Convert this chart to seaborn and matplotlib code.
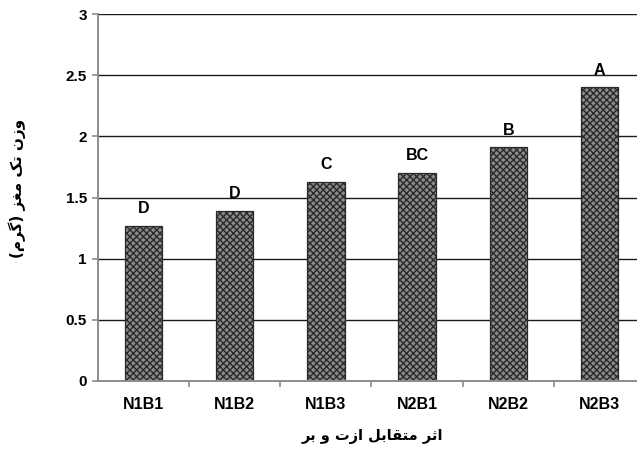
import matplotlib
matplotlib.use("Agg")
import matplotlib.pyplot as plt
import seaborn as sns
import pandas as pd

# Kernel weight per nitrogen x boron treatment
groups = ["N1B1", "N1B2", "N1B3", "N2B1", "N2B2", "N2B3"]
weights = [1.27, 1.39, 1.63, 1.70, 1.91, 2.40]
letters = ["D", "D", "C", "BC", "B", "A"]
y_ticks = [0, 0.5, 1, 1.5, 2, 2.5, 3]
y_tick_labels = ["0", "0.5", "1", "1.5", "2", "2.5", "3"]

x_title = "اثر متقابل ازت و بر"
y_title = "وزن تک مغز (گرم)"

# Contextual forms (isolated, final, initial, medial) for the letters used
FORMS = {
    "ا": (0xFE8D, 0xFE8E, None, None),
    "ب": (0xFE8F, 0xFE90, 0xFE91, 0xFE92),
    "ت": (0xFE95, 0xFE96, 0xFE97, 0xFE98),
    "ث": (0xFE99, 0xFE9A, 0xFE9B, 0xFE9C),
    "ر": (0xFEAD, 0xFEAE, None, None),
    "ز": (0xFEAF, 0xFEB0, None, None),
    "غ": (0xFECD, 0xFECE, 0xFECF, 0xFED0),
    "ق": (0xFED5, 0xFED6, 0xFED7, 0xFED8),
    "ل": (0xFEDD, 0xFEDE, 0xFEDF, 0xFEE0),
    "م": (0xFEE1, 0xFEE2, 0xFEE3, 0xFEE4),
    "ن": (0xFEE5, 0xFEE6, 0xFEE7, 0xFEE8),
    "و": (0xFEED, 0xFEEE, None, None),
    "ک": (0xFB8E, 0xFB8F, 0xFB90, 0xFB91),
    "گ": (0xFB92, 0xFB93, 0xFB94, 0xFB95),
}


def shape_rtl(text):
    """Join Persian letters and lay the string out right-to-left."""
    out = []
    for i, c in enumerate(text):
        if c not in FORMS:
            out.append(c)
            continue
        iso, fin, ini, med = FORMS[c]
        prev = text[i - 1] if i > 0 else None
        nxt = text[i + 1] if i + 1 < len(text) else None
        join_prev = prev in FORMS and FORMS[prev][2] is not None
        join_next = nxt in FORMS and ini is not None
        if join_prev and join_next:
            code = med
        elif join_prev:
            code = fin
        elif join_next:
            code = ini
        else:
            code = iso
        out.append(chr(code))
    mirror = {"(": ")", ")": "("}
    return "".join(mirror.get(c, c) for c in reversed(out))


sns.set_theme(style="white")
plt.rcParams["font.family"] = ["Liberation Sans", "DejaVu Sans"]
plt.rcParams["hatch.linewidth"] = 1.0
plt.rcParams["text.color"] = "black"
plt.rcParams["xtick.labelcolor"] = "black"
plt.rcParams["ytick.labelcolor"] = "black"

df = pd.DataFrame({"group": groups, "weight": weights})

fig = plt.figure(figsize=(6.37, 4.55), dpi=100)
ax = fig.add_axes([98 / 637, 74 / 455, 547 / 637, 367 / 455])

sns.barplot(data=df, x="group", y="weight", ax=ax, width=0.41,
            color="#8a8a8a", saturation=1, zorder=3)

for patch in ax.patches:
    patch.set_facecolor("#8a8a8a")
    patch.set_edgecolor("#2a2a2a")
    patch.set_hatch("xxxxx")
    patch.set_linewidth(0.9)

ax.set_ylim(0, 3)
ax.set_xlim(-0.5, len(groups) - 0.5)
ax.set_yticks(y_ticks)
ax.set_yticklabels(y_tick_labels)

# Horizontal gridlines
for v in y_ticks[1:]:
    ax.axhline(v, color="#1a1a1a", linewidth=1.0, zorder=1)

for s in ["top", "right"]:
    ax.spines[s].set_visible(False)
for s in ["left", "bottom"]:
    ax.spines[s].set_color("#8c8c8c")
    ax.spines[s].set_linewidth(1.4)
    ax.spines[s].set_zorder(4)

ax.tick_params(axis="y", which="major", direction="out", length=4.5, width=1.2,
               color="#8c8c8c", pad=3.5, left=True, labelsize=11)
ax.tick_params(axis="x", which="major", length=0, pad=11.5, labelsize=11.5)
ax.set_xticks([i + 0.5 for i in range(len(groups) - 1)], minor=True)
ax.tick_params(axis="x", which="minor", direction="out", length=4.5, width=1.2,
               color="#8c8c8c", bottom=True)

for lab in ax.get_xticklabels() + ax.get_yticklabels():
    lab.set_fontweight("bold")

# Significance letters above the bars
for i, (v, t) in enumerate(zip(weights, letters)):
    ax.annotate(t, (i, v), xytext=(0, 7), textcoords="offset points",
                ha="center", va="bottom", fontsize=11.5, fontweight="bold")

ax.set_xlabel("")
ax.set_ylabel("")
fig.text(372 / 637, 1 - 437 / 455, shape_rtl(x_title), ha="center", va="center",
         fontsize=10.5, fontweight="bold", family=["DejaVu Sans"])
fig.text(17 / 637, 1 - 188 / 455, shape_rtl(y_title), ha="center", va="center",
         rotation=90, fontsize=11, fontweight="bold", family=["DejaVu Sans"])

fig.savefig("out.png", dpi=100)
